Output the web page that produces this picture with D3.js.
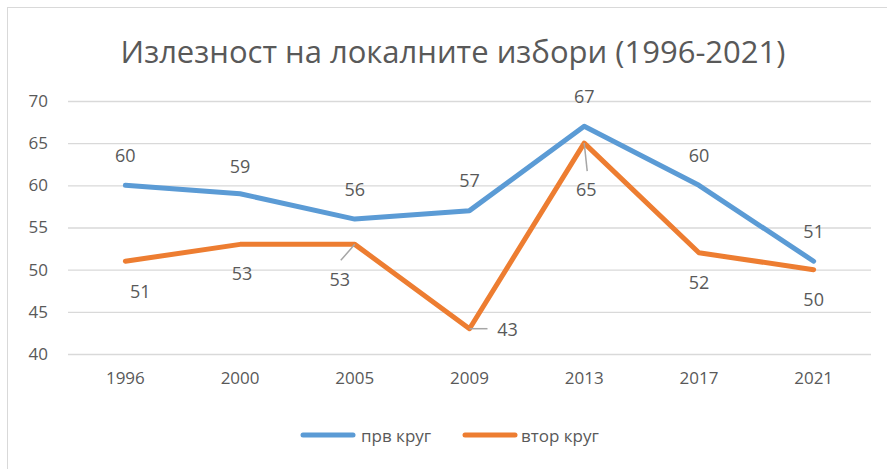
<!doctype html>
<html lang="mk">
<head>
<meta charset="utf-8">
<title>Излезност на локалните избори</title>
<style>
  body { margin: 0; background: #fff; }
  text { font-family: "Open Sans", "Noto Sans", sans-serif; fill: #595959; }
</style>
</head>
<body>
<script src="https://cdn.jsdelivr.net/npm/d3@7"></script>
<script>
// data
var years = ["1996", "2000", "2005", "2009", "2013", "2017", "2021"];
var prvKrug = [60, 59, 56, 57, 67, 60, 51];
var vtorKrug = [51, 53, 53, 43, 65, 52, 50];
var yTicks = [40, 45, 50, 55, 60, 65, 70];
var seriesNames = ["прв круг", "втор круг"];
var colors = ["#5b9bd5", "#ed7d31"];

// label offsets (dx, dy) relative to point, as placed in the original
var prvOffsets = [[0, -30], [0, -28], [0, -30], [0, -31], [0, -30], [0, -30], [0, -30]];
var vtorOffsets = [[15, 30], [2, 29], [-15, 35], [38, 0], [2, 46], [0, 29], [0, 29]];

var w = 887, h = 469;
var svg = d3.select("body").append("svg").attr("width", w).attr("height", h);

// chart border
svg.append("rect").attr("x", 7.5).attr("y", 7.5).attr("width", w).attr("height", h)
  .attr("fill", "none").attr("stroke", "#d9d9d9");

svg.append("text").attr("x", 453).attr("y", 63).attr("text-anchor", "middle")
  .style("font-size", "31px").text("Излезност на локалните избори (1996-2021)");

var x = d3.scaleBand().domain(years).range([68, 871]);
var y = d3.scaleLinear().domain([40, 70]).range([354, 101]);

// gridlines
svg.append("g").selectAll("line").data(yTicks).enter().append("line")
  .attr("x1", 68).attr("x2", 871)
  .attr("y1", function(d) { return y(d) + 0.5; })
  .attr("y2", function(d) { return y(d) + 0.5; })
  .attr("stroke", "#d9d9d9").attr("stroke-width", 1.3);

// y axis labels
var yAxis = svg.append("g").attr("transform", "translate(56,0)")
  .call(d3.axisLeft(y).tickValues(yTicks).tickSize(0).tickPadding(8));
yAxis.select(".domain").remove();
yAxis.selectAll("text").style("font-size", "17px").attr("fill", "#595959");

// x axis labels
var xAxis = svg.append("g").attr("transform", "translate(0,366)")
  .call(d3.axisBottom(x).tickSize(0).tickPadding(6));
xAxis.select(".domain").remove();
xAxis.selectAll("text").style("font-size", "17px").attr("fill", "#595959");

var line = d3.line()
  .x(function(d, i) { return x(years[i]) + x.bandwidth() / 2; })
  .y(function(d) { return y(d); });

var series = [prvKrug, vtorKrug];
var offsets = [prvOffsets, vtorOffsets];

series.forEach(function(s, k) {
  svg.append("path").datum(s).attr("d", line)
    .attr("fill", "none").attr("stroke", colors[k]).attr("stroke-width", 5)
    .attr("stroke-linejoin", "round").attr("stroke-linecap", "round");
});

// leader lines for displaced labels
var leaders = [[2, [-14, 16]], [3, [18, 0]], [4, [3, 28]]];
leaders.forEach(function(l) {
  var i = l[0];
  var cx = x(years[i]) + x.bandwidth() / 2, cy = y(vtorKrug[i]);
  svg.append("line").attr("x1", cx).attr("y1", cy)
    .attr("x2", cx + l[1][0]).attr("y2", cy + l[1][1])
    .attr("stroke", "#a6a6a6").attr("stroke-width", 1.5);
});

series.forEach(function(s, k) {
  svg.append("g").selectAll("text").data(s).enter().append("text")
    .attr("x", function(d, i) { return x(years[i]) + x.bandwidth() / 2 + offsets[k][i][0]; })
    .attr("y", function(d, i) { return y(d) + offsets[k][i][1]; })
    .attr("text-anchor", "middle").attr("dominant-baseline", "central")
    .style("font-size", "18px")
    .text(function(d) { return d; });
});

// legend
var legendItems = [[303, 361], [465, 521]];
seriesNames.forEach(function(n, k) {
  var g = svg.append("g");
  g.append("line").attr("x1", legendItems[k][0]).attr("x2", legendItems[k][0] + 50)
    .attr("y1", 435).attr("y2", 435)
    .attr("stroke", colors[k]).attr("stroke-width", 5).attr("stroke-linecap", "round");
  g.append("text").attr("x", legendItems[k][1]).attr("y", 435)
    .attr("dominant-baseline", "central").style("font-size", "17px").text(n);
});
</script>
</body>
</html>
